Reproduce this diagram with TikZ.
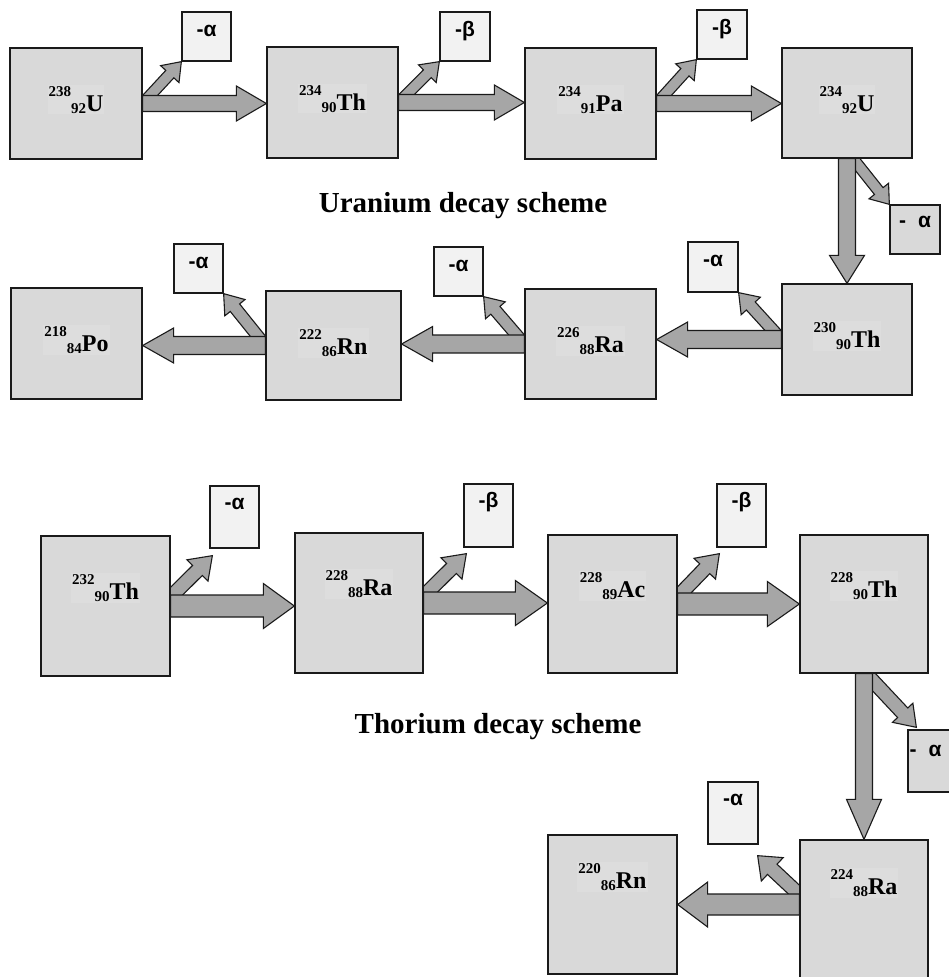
\documentclass[tikz,border=0pt]{standalone}
\usepackage{fontspec}
\setmainfont{Liberation Serif}
\newfontfamily\greekbox{Liberation Sans}
\usetikzlibrary{calc}
\pgfdeclarelayer{bg}
\pgfsetlayers{bg,main}
\definecolor{boxgray}{HTML}{D9D9D9}
\definecolor{tagfill}{HTML}{F2F2F2}
\definecolor{arrowgray}{HTML}{A6A6A6}
\definecolor{inkline}{HTML}{1A1A1A}
\definecolor{labelbg}{HTML}{DDDDDD}

% mass number, atomic number, symbol
\newcommand\isolabel[3]{{\fontsize{15}{15}\selectfont\raisebox{15pt}{#1}\raisebox{-2pt}{#2}}#3}

% block arrow: tail, tip, half shaft width, half head width, head length
\newcommand\blockarrow[5]{%
  \coordinate (ba-s) at (#1);
  \coordinate (ba-t) at (#2);
  \coordinate (ba-h) at ($(ba-t)!#5!(ba-s)$);
  \draw[barrow] ($(ba-s)!#3!90:(ba-t)$) -- ($(ba-h)!#3!90:(ba-t)$) -- ($(ba-h)!#4!90:(ba-t)$)
    -- (ba-t) -- ($(ba-h)!#4!-90:(ba-t)$) -- ($(ba-h)!#3!-90:(ba-t)$) -- ($(ba-s)!#3!-90:(ba-t)$) -- cycle;}

\tikzset{
  nuc/.style={draw=inkline, line width=1.3pt, fill=boxgray, inner sep=0pt},
  tag/.style={draw=inkline, line width=1.3pt, fill=tagfill, inner sep=0pt},
  tagdark/.style={tag, fill=boxgray},
  isotext/.style={font=\bfseries\fontsize{24}{24}\selectfont, fill=labelbg, inner sep=1pt, anchor=base},
  tagtext/.style={font=\greekbox\bfseries\fontsize{21}{21}\selectfont, anchor=base, inner sep=0pt},
  titletext/.style={font=\bfseries\fontsize{29}{29}\selectfont, anchor=base},
  barrow/.style={draw=inkline, line width=1.1pt, fill=arrowgray, line join=miter},
}

\begin{document}
\begin{tikzpicture}[x=1pt, y=-1pt]
\useasboundingbox (0,0) rectangle (949,977);
\clip (0,0) rectangle (949,977);

% ---------------- uranium series ----------------
\node[nuc, minimum width=132pt, minimum height=111pt] (u238)  at (76,103.5) {};
\node[nuc, minimum width=131pt, minimum height=111pt] (th234) at (332.5,102.5) {};
\node[nuc, minimum width=131pt, minimum height=111pt] (pa234) at (590.5,103.5) {};
\node[nuc, minimum width=130pt, minimum height=110pt] (u234)  at (847,103) {};
\node[nuc, minimum width=130pt, minimum height=111pt] (th230) at (847,339.5) {};
\node[nuc, minimum width=131pt, minimum height=110pt] (ra226) at (590.5,344) {};
\node[nuc, minimum width=135pt, minimum height=109pt] (rn222) at (333.5,345.5) {};
\node[nuc, minimum width=131pt, minimum height=111pt] (po218) at (76.5,343.5) {};

\node[tag, minimum width=49pt, minimum height=49pt] (a1) at (206.5,36.5) {};
\node[tag, minimum width=50pt, minimum height=49pt] (b1) at (465,36.5) {};
\node[tag, minimum width=50pt, minimum height=49pt] (b2) at (722,34.5) {};
\node[tagdark, minimum width=50pt, minimum height=49pt] (a2) at (915,229.5) {};
\node[tag, minimum width=50pt, minimum height=50pt] (a3) at (713,267) {};
\node[tag, minimum width=49pt, minimum height=49pt] (a4) at (458.5,271.5) {};
\node[tag, minimum width=49pt, minimum height=49pt] (a5) at (198.5,268.5) {};

\node[isotext] (u238-l)  at ($(u238.north)+(0,64)$)  {\isolabel{238}{92}{U}};
\node[isotext] (th234-l) at ($(th234.north)+(0,64)$) {\isolabel{234}{90}{Th}};
\node[isotext] (pa234-l) at ($(pa234.north)+(0,64)$) {\isolabel{234}{91}{Pa}};
\node[isotext] (u234-l)  at ($(u234.north)+(0,64)$)  {\isolabel{234}{92}{U}};
\node[isotext] (th230-l) at ($(th230.north)+(0,64)$) {\isolabel{230}{90}{Th}};
\node[isotext] (ra226-l) at ($(ra226.north)+(0,64)$) {\isolabel{226}{88}{Ra}};
\node[isotext] (rn222-l) at ($(rn222.north)+(0,64)$) {\isolabel{222}{86}{Rn}};
\node[isotext] (po218-l) at ($(po218.north)+(0,64)$) {\isolabel{218}{84}{Po}};

\node[tagtext] (a1-l) at ($(a1.north)+(0,25)$) {-α};
\node[tagtext] (b1-l) at ($(b1.north)+(0,25)$) {-β};
\node[tagtext] (b2-l) at ($(b2.north)+(0,25)$) {-β};
\node[tagtext] (a2-l) at ($(a2.north)+(0,23)$) {-\hspace{12pt}α};
\node[tagtext] (a3-l) at ($(a3.north)+(0,25)$) {-α};
\node[tagtext] (a4-l) at ($(a4.north)+(0,25)$) {-α};
\node[tagtext] (a5-l) at ($(a5.north)+(0,25)$) {-α};

\node[titletext] (utitle) at (463,212) {Uranium decay scheme};

% ---------------- thorium series ----------------
\node[nuc, minimum width=129pt, minimum height=140pt] (th232) at (105.5,606) {};
\node[nuc, minimum width=128pt, minimum height=140pt] (ra228) at (359,603) {};
\node[nuc, minimum width=129pt, minimum height=138pt] (ac228) at (612.5,604) {};
\node[nuc, minimum width=128pt, minimum height=138pt] (th228) at (864,604) {};
\node[nuc, minimum width=128pt, minimum height=150pt] (ra224) at (864,915) {};
\node[nuc, minimum width=129pt, minimum height=139pt] (rn220) at (612.5,904.5) {};

\node[tag, minimum width=49pt, minimum height=62pt] (a6) at (234.5,517) {};
\node[tag, minimum width=49pt, minimum height=63pt] (b3) at (488.5,515.5) {};
\node[tag, minimum width=49pt, minimum height=63pt] (b4) at (741.5,515.5) {};
\node[tagdark, minimum width=50pt, minimum height=62pt] (a7) at (933,761) {};
\node[tag, minimum width=50pt, minimum height=62pt] (a8) at (733,813) {};

\node[isotext] (th232-l) at ($(th232.north)+(0,64)$) {\isolabel{232}{90}{Th}};
\node[isotext] (ra228-l) at ($(ra228.north)+(0,63)$) {\isolabel{228}{88}{Ra}};
\node[isotext] (ac228-l) at ($(ac228.north)+(0,63)$) {\isolabel{228}{89}{Ac}};
\node[isotext] (th228-l) at ($(th228.north)+(0,63)$) {\isolabel{228}{90}{Th}};
\node[isotext] (ra224-l) at ($(ra224.north)+(0,55)$) {\isolabel{224}{88}{Ra}};
\node[isotext] (rn220-l) at ($(rn220.north)+(0,54)$) {\isolabel{220}{86}{Rn}};

\node[tagtext] (a6-l) at ($(a6.north)+(0,24)$) {-α};
\node[tagtext] (b3-l) at ($(b3.north)+(0,24)$) {-β};
\node[tagtext] (b4-l) at ($(b4.north)+(0,24)$) {-β};
\node[tagtext, anchor=base west] (a7-l) at ($(a7.north west)+(2,27)$) {-\hspace{12pt}α};
\node[tagtext] (a8-l) at ($(a8.north)+(0,24)$) {-α};

\node[titletext, anchor=base east] (ttitle) at (645,733) {Thorium decay scheme};

% free ends of the side arrows
\coordinate (u234-s)  at ($(u234.south)+(6,0)$);
\coordinate (th232-s) at ($(th232.east)+(-7,-2)$);
\coordinate (a6-tip)  at ($(a6.south west)+(3,7)$);
\coordinate (ra228-s) at ($(ra228.east)+(-7,0)$);
\coordinate (b3-tip)  at ($(b3.south west)+(3,6)$);
\coordinate (ac228-s) at ($(ac228.east)+(-7,0)$);
\coordinate (b4-tip)  at ($(b4.south west)+(3,6)$);
\coordinate (th228-s) at ($(th228.south)+(2,0)$);
\coordinate (a7-tip)  at ($(a7.north west)+(9,-2)$);
\coordinate (ra224-s) at ($(ra224.west)+(10,-11)$);
\coordinate (a8-tip)  at ($(a8.south east)+(-1,11)$);

\begin{pgfonlayer}{bg}
  % emitted particles
  \blockarrow{u238.east}{a1.south west}{5.5pt}{12.5pt}{17pt}
  \blockarrow{th234.east}{b1.south west}{5.5pt}{12.5pt}{17pt}
  \blockarrow{pa234.east}{b2.south west}{5.5pt}{12.5pt}{17pt}
  \blockarrow{u234-s}{a2.north west}{5.5pt}{12.5pt}{17pt}
  \blockarrow{th230.west}{a3.south east}{6pt}{13pt}{18pt}
  \blockarrow{ra226.west}{a4.south east}{6pt}{13pt}{18pt}
  \blockarrow{rn222.west}{a5.south east}{6pt}{13pt}{18pt}
  \blockarrow{th232-s}{a6-tip}{7pt}{15pt}{21pt}
  \blockarrow{ra228-s}{b3-tip}{7pt}{15pt}{21pt}
  \blockarrow{ac228-s}{b4-tip}{7pt}{15pt}{21pt}
  \blockarrow{th228-s}{a7-tip}{7pt}{14pt}{20pt}
  \blockarrow{ra224-s}{a8-tip}{7pt}{16pt}{20pt}
  % decay chain
  \blockarrow{u238.east}{th234.west |- u238.east}{8pt}{17.5pt}{30pt}
  \blockarrow{th234.east}{pa234.west |- th234.east}{8pt}{17.5pt}{30pt}
  \blockarrow{pa234.east}{u234.west |- pa234.east}{8pt}{17.5pt}{30pt}
  \blockarrow{u234.south}{th230.north -| u234.south}{8.5pt}{17.5pt}{28pt}
  \blockarrow{th230.west}{ra226.east |- th230.west}{9pt}{17.5pt}{31pt}
  \blockarrow{ra226.west}{rn222.east |- ra226.west}{9pt}{17.5pt}{31pt}
  \blockarrow{rn222.west}{po218.east |- rn222.west}{9pt}{17.5pt}{31pt}
  \blockarrow{th232.east}{ra228.west |- th232.east}{11pt}{22.5pt}{31pt}
  \blockarrow{ra228.east}{ac228.west |- ra228.east}{11pt}{22.5pt}{32pt}
  \blockarrow{ac228.east}{th228.west |- ac228.east}{11pt}{22.5pt}{32pt}
  \blockarrow{th228.south}{ra224.north -| th228.south}{8.5pt}{17.5pt}{40pt}
  \blockarrow{ra224.west |- rn220.east}{rn220.east}{10.5pt}{22.5pt}{30pt}
\end{pgfonlayer}
\end{tikzpicture}
\end{document}
